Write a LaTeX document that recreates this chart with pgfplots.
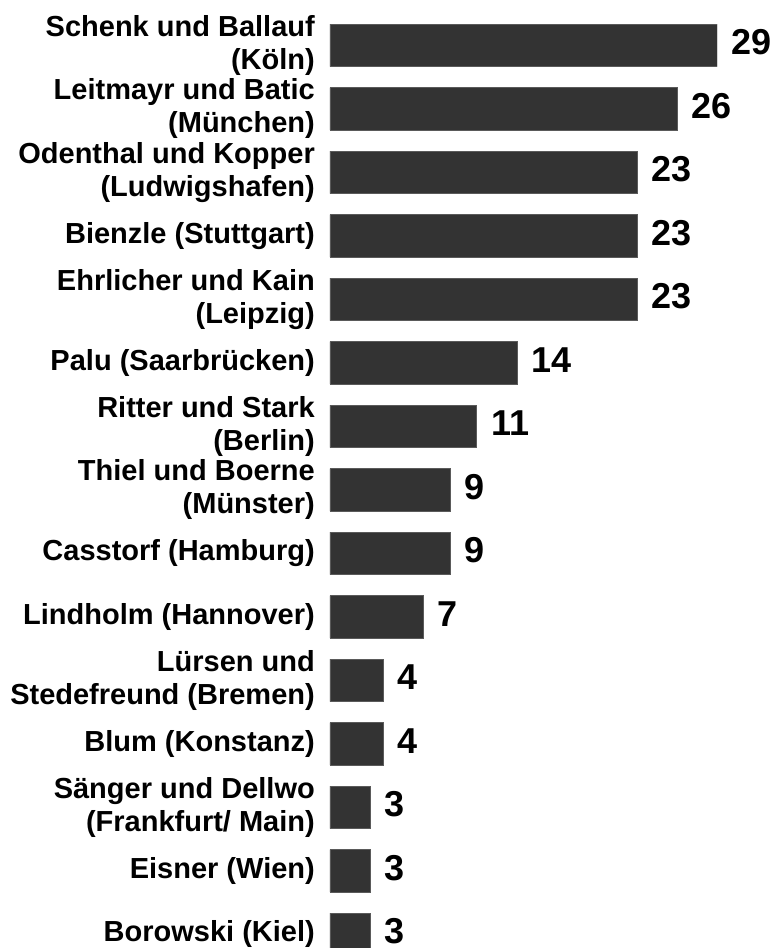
\documentclass[border=0pt]{standalone}
\usepackage{fontspec}
\setmainfont{Liberation Sans}
\usepackage{pgfplots}
\pgfplotsset{compat=1.18}
\definecolor{barfill}{HTML}{333333}
\definecolor{baredge}{HTML}{5A5A5A}
\newcommand\labelfont{\fontsize{29}{33.3}\selectfont\bfseries}
\newcommand\valuefont{\fontsize{36}{42}\selectfont\bfseries}
\begin{document}
\begin{tikzpicture}
\useasboundingbox (0,0) rectangle (775pt,-948pt);
\clip (0,0) rectangle (775pt,-948pt);
\begin{axis}[
  at={(330pt,-966pt)}, anchor=south west,
  scale only axis, width=387pt, height=952.5pt,
  xbar, bar width=42.5pt,
  xmin=0, xmax=29, ymin=-0.5, ymax=14.5,
  axis lines=left, axis line style={draw=none},
  xtick=\empty, ytick={0,...,14},
  tick style={draw=none}, major tick length=0pt,
  /pgf/number format/assume math mode=true,
  yticklabels={
    {Borowski (Kiel)},
    {Eisner (Wien)},
    {Sänger und Dellwo\\(Frankfurt/ Main)},
    {Blum (Konstanz)},
    {Lürsen und\\Stedefreund (Bremen)},
    {Lindholm (Hannover)},
    {Casstorf (Hamburg)},
    {Thiel und Boerne\\(Münster)},
    {Ritter und Stark\\(Berlin)},
    {Palu (Saarbrücken)},
    {Ehrlicher und Kain\\(Leipzig)},
    {Bienzle (Stuttgart)},
    {Odenthal und Kopper\\(Ludwigshafen)},
    {Leitmayr und Batic\\(München)},
    {Schenk und Ballauf\\(Köln)}
  },
  yticklabel style={inner sep=0pt, xshift=-15pt, align=right, font=\labelfont},
  nodes near coords, point meta=x,
  every node near coord/.append style={font=\valuefont, inner sep=0pt, anchor=west, xshift=14pt, yshift=3pt, text=black},
]
\addplot[fill=barfill, draw=baredge, line width=0.6pt] coordinates {
  (3,0) (3,1) (3,2) (4,3) (4,4) (7,5) (9,6) (9,7) (11,8) (14,9)
  (23,10) (23,11) (23,12) (26,13) (29,14)
};
\end{axis}
\end{tikzpicture}
\end{document}
